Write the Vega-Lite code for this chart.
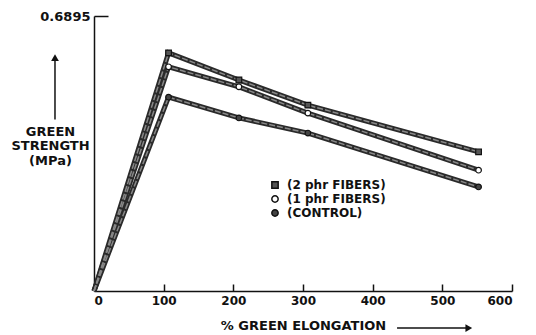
{
  "$schema": "https://vega.github.io/schema/vega-lite/v6.json",
  "width": 418,
  "height": 275,
  "autosize": "none",
  "padding": {"left": 94, "top": 16, "right": 24, "bottom": 44},
  "background": "white",
  "config": {
    "view": {"stroke": null},
    "font": "DejaVu Sans",
    "axis": {"grid": false, "domainColor": "#111", "tickColor": "#111", "labelColor": "#111", "titleColor": "#111", "domainWidth": 1.5, "tickWidth": 1.5}
  },
  "datasets": {
    "series": [
      {"series": "(2 phr FIBERS)", "x": 0, "y": 0},
      {"series": "(2 phr FIBERS)", "x": 107, "y": 0.597},
      {"series": "(2 phr FIBERS)", "x": 208, "y": 0.529},
      {"series": "(2 phr FIBERS)", "x": 307, "y": 0.466},
      {"series": "(2 phr FIBERS)", "x": 552, "y": 0.349},
      {"series": "(1 phr FIBERS)", "x": 0, "y": 0},
      {"series": "(1 phr FIBERS)", "x": 107, "y": 0.562},
      {"series": "(1 phr FIBERS)", "x": 208, "y": 0.512},
      {"series": "(1 phr FIBERS)", "x": 307, "y": 0.446},
      {"series": "(1 phr FIBERS)", "x": 552, "y": 0.303},
      {"series": "(CONTROL)", "x": 0, "y": 0},
      {"series": "(CONTROL)", "x": 107, "y": 0.486},
      {"series": "(CONTROL)", "x": 208, "y": 0.434},
      {"series": "(CONTROL)", "x": 307, "y": 0.396},
      {"series": "(CONTROL)", "x": 552, "y": 0.261}
    ],
    "yarrow": [{"x": -56, "y": 0.43, "y2": 0.585}],
    "yhead": [{"x": -56, "y": 0.585}],
    "xarrow": [{"x": 435, "x2": 535, "y": -0.093}],
    "xhead": [{"x": 538, "y": -0.093}]
  },
  "layer": [
    {
      "data": {"name": "series"},
      "mark": {"type": "line", "color": "#2a2a2a", "strokeWidth": 5},
      "encoding": {
        "x": {"field": "x", "type": "quantitative", "scale": {"domain": [0, 600], "nice": false},
          "axis": {"values": [0, 100, 200, 300, 400, 500, 600], "tickSize": -7, "labelPadding": 11, "labelFontSize": 12, "labelFontWeight": "bold", "title": "% GREEN ELONGATION", "titleFontSize": 13, "titleFontWeight": "bold", "titlePadding": 13}},
        "y": {"field": "y", "type": "quantitative", "scale": {"domain": [0, 0.6895], "nice": false, "zero": true},
          "axis": {"values": [0.6895], "format": ".4f", "tickSize": -14, "labelPadding": 18, "labelFontSize": 13, "labelFontWeight": "bold",
            "title": ["GREEN", "STRENGTH", "(MPa)"], "titleAngle": 0, "titleX": -44, "titleY": 109, "titleAlign": "center", "titleBaseline": "top", "titleFontSize": 13, "titleFontWeight": "bold", "titleLineHeight": 14.5}},
        "detail": {"field": "series"}
      }
    },
    {
      "data": {"name": "series"},
      "mark": {"type": "line", "color": "#888", "strokeWidth": 1.5, "strokeDash": [6, 2]},
      "encoding": {
        "x": {"field": "x", "type": "quantitative"},
        "y": {"field": "y", "type": "quantitative"},
        "detail": {"field": "series"}
      }
    },
    {
      "data": {"name": "series"},
      "transform": [{"filter": "datum.x > 0"}],
      "mark": {"type": "point", "size": 32, "stroke": "#111", "strokeWidth": 1.2, "opacity": 1},
      "encoding": {
        "x": {"field": "x", "type": "quantitative"},
        "y": {"field": "y", "type": "quantitative"},
        "shape": {"field": "series", "type": "nominal",
          "scale": {"domain": ["(2 phr FIBERS)", "(1 phr FIBERS)", "(CONTROL)"], "range": ["square", "circle", "circle"]},
          "legend": {"title": null, "orient": "none", "legendX": 175, "legendY": 163, "labelFontSize": 12, "labelFontWeight": "bold", "labelColor": "#111", "labelOffset": 6, "rowPadding": 0, "symbolSize": 40,
            "encode": {"symbols": {"update": {"stroke": {"value": "#111"}, "strokeWidth": {"value": 1.2}}}}}},
        "fill": {"field": "series", "type": "nominal",
          "scale": {"domain": ["(2 phr FIBERS)", "(1 phr FIBERS)", "(CONTROL)"], "range": ["#555", "white", "#444"]},
          "legend": {"title": null, "orient": "none", "legendX": 175, "legendY": 163, "labelFontSize": 12, "labelFontWeight": "bold", "labelColor": "#111", "labelOffset": 6, "rowPadding": 0, "symbolSize": 40,
            "encode": {"symbols": {"update": {"stroke": {"value": "#111"}, "strokeWidth": {"value": 1.2}}}}}}
      }
    },
    {
      "data": {"name": "yarrow"},
      "mark": {"type": "rule", "color": "#111", "strokeWidth": 1.5},
      "encoding": {"x": {"field": "x", "type": "quantitative"}, "y": {"field": "y", "type": "quantitative"}, "y2": {"field": "y2"}}
    },
    {
      "data": {"name": "yhead"},
      "mark": {"type": "point", "shape": "triangle-up", "filled": true, "color": "#111", "size": 60, "opacity": 1},
      "encoding": {"x": {"field": "x", "type": "quantitative"}, "y": {"field": "y", "type": "quantitative"}}
    },
    {
      "data": {"name": "xarrow"},
      "mark": {"type": "rule", "color": "#111", "strokeWidth": 1.5},
      "encoding": {"x": {"field": "x", "type": "quantitative"}, "x2": {"field": "x2"}, "y": {"field": "y", "type": "quantitative"}}
    },
    {
      "data": {"name": "xhead"},
      "mark": {"type": "point", "shape": "triangle-right", "filled": true, "color": "#111", "size": 60, "opacity": 1},
      "encoding": {"x": {"field": "x", "type": "quantitative"}, "y": {"field": "y", "type": "quantitative"}}
    }
  ]
}
